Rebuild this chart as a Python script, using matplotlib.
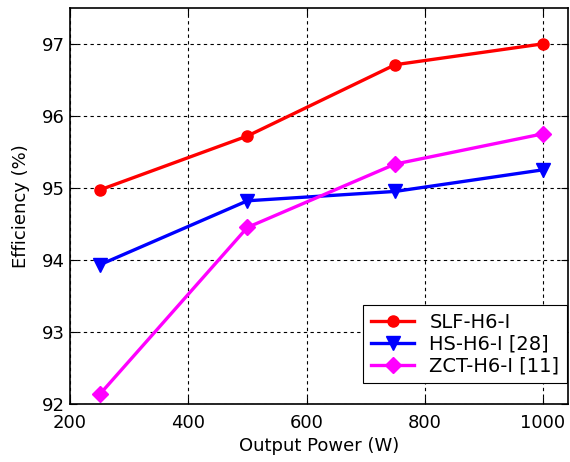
import matplotlib
matplotlib.use('Agg')
import matplotlib.pyplot as plt

plt.rcParams['font.family'] = ['DejaVu Sans']

# Data
power = [250, 500, 750, 1000]
slf = [94.97, 95.72, 96.71, 97.0]
hs = [93.93, 94.82, 94.95, 95.25]
zct = [92.13, 94.45, 95.33, 95.75]
xticks = [200, 400, 600, 800, 1000]
yticks = [92, 93, 94, 95, 96, 97]

fig = plt.figure(figsize=(5.7, 4.62), dpi=100)
ax = fig.add_axes([0.123, 0.126, 0.873, 0.857])

ax.plot(power, slf, color='red', lw=2.4, marker='o', ms=8, label='SLF-H6-I')
ax.plot(power, hs, color='blue', lw=2.4, marker='v', ms=10, label='HS-H6-I [28]')
ax.plot(power, zct, color='magenta', lw=2.4, marker='D', ms=8, label='ZCT-H6-I [11]')

ax.set_xlim(200, 1042)
ax.set_ylim(92, 97.5)
ax.set_xticks(xticks)
ax.set_yticks(yticks)
ax.grid(True, color='black', linestyle=(0, (3, 3)), linewidth=0.8)
ax.tick_params(direction='in', top=True, right=True, labelsize=13, length=5)
ax.tick_params(axis='x', pad=7)
for s in ax.spines.values():
    s.set_linewidth(1.2)

ax.set_xlabel('Output Power (W)', fontsize=13, labelpad=4)
ax.set_ylabel('Efficiency (%)', fontsize=13, labelpad=9)

leg = ax.legend(loc='lower right', bbox_to_anchor=(0.999, 0.052), fontsize=14,
                fancybox=False, edgecolor='black', framealpha=1,
                handlelength=2.2, handletextpad=0.8, borderpad=0.4,
                labelspacing=0.15, borderaxespad=0)
leg.get_frame().set_linewidth(0.8)

fig.savefig('out.png', dpi=100)
